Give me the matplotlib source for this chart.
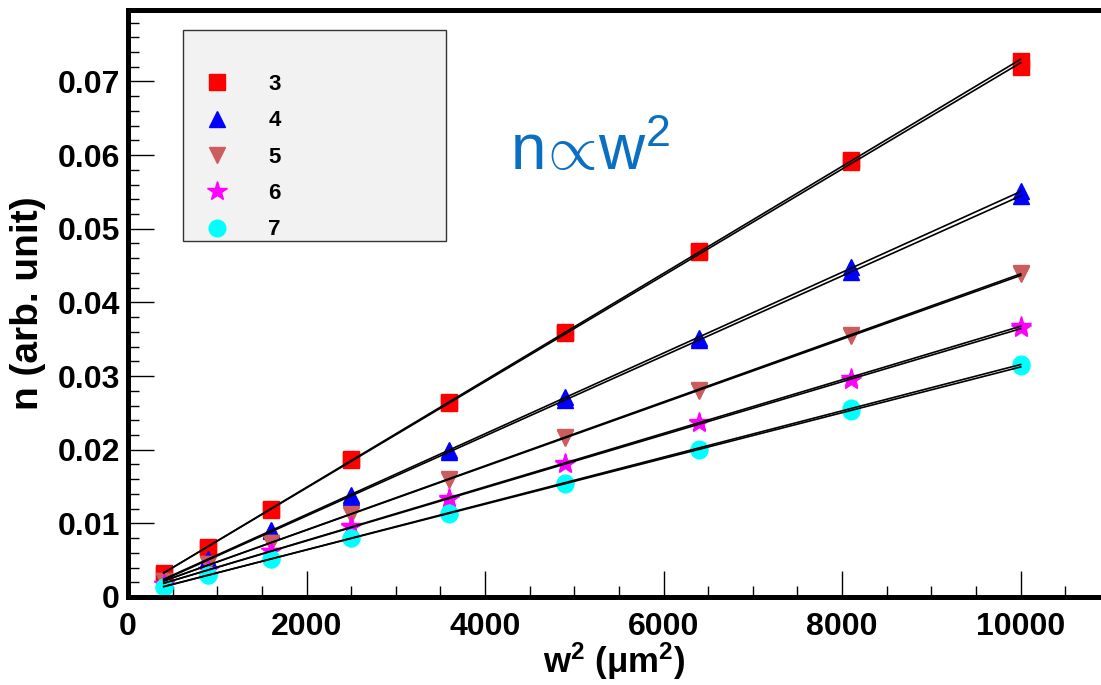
import numpy as np
import matplotlib
matplotlib.use('Agg')
import matplotlib.pyplot as plt
from matplotlib.patches import Rectangle
from matplotlib.ticker import MultipleLocator

plt.rcParams['font.family'] = ['Liberation Sans', 'DejaVu Sans']
plt.rcParams['mathtext.fontset'] = 'custom'
plt.rcParams['mathtext.rm'] = 'Liberation Sans'
plt.rcParams['mathtext.bf'] = 'Liberation Sans:bold'
plt.rcParams['mathtext.it'] = 'Liberation Sans:italic'

# w^2 in um^2
w2 = [400, 900, 1600, 2500, 3600, 4900, 6400, 8100, 10000]

# two measurements per group, n in arb. unit
n3a = [0.0032, 0.0068, 0.0119, 0.0187, 0.0265, 0.0360, 0.0470, 0.0593, 0.0728]
n3b = [0.0031, 0.0067, 0.0118, 0.0186, 0.0264, 0.0359, 0.0469, 0.0591, 0.0720]
n4a = [0.0025, 0.0052, 0.0091, 0.0138, 0.0199, 0.0271, 0.0351, 0.0448, 0.0551]
n4b = [0.0024, 0.0050, 0.0089, 0.0136, 0.0197, 0.0268, 0.0349, 0.0441, 0.0545]
n5a = [0.0022, 0.0045, 0.0073, 0.0113, 0.0160, 0.0217, 0.0281, 0.0356, 0.0440]
n5b = [0.0022, 0.0045, 0.0073, 0.0112, 0.0159, 0.0216, 0.0280, 0.0354, 0.0438]
n6a = [0.0018, 0.0037, 0.0063, 0.0096, 0.0134, 0.0182, 0.0237, 0.0298, 0.0368]
n6b = [0.0018, 0.0037, 0.0062, 0.0095, 0.0133, 0.0181, 0.0236, 0.0294, 0.0365]
n7a = [0.0014, 0.0030, 0.0052, 0.0080, 0.0114, 0.0155, 0.0201, 0.0257, 0.0316]
n7b = [0.0014, 0.0030, 0.0052, 0.0080, 0.0113, 0.0154, 0.0200, 0.0253, 0.0313]

labels = ['3', '4', '5', '6', '7']
colors = ['#ff0000', '#0000ff', '#cd5c5c', '#ff00ff', '#00ffff']
markers = ['s', '^', 'v', '*', 'o']
sizes = [12, 12, 12, 15, 12]
data = [(n3a, n3b), (n4a, n4b), (n5a, n5b), (n6a, n6b), (n7a, n7b)]

xtick_vals = [0, 2000, 4000, 6000, 8000, 10000]
xtick_labels = ['0', '2000', '4000', '6000', '8000', '10000']
ytick_vals = [0, 0.01, 0.02, 0.03, 0.04, 0.05, 0.06, 0.07]
ytick_labels = ['0', '0.01', '0.02', '0.03', '0.04', '0.05', '0.06', '0.07']

fig = plt.figure(figsize=(11.01, 6.85), dpi=100)
ax = fig.add_axes([128/1101, 88/685, 973/1101, 587/685])

x = np.array(w2)
handles = []
for lab, col, mk, ms, pair in zip(labels, colors, markers, sizes, data):
    for k, y in enumerate(pair):
        y = np.array(y)
        h, = ax.plot(x, y, linestyle='none', marker=mk, ms=ms, color=col,
                     mec=col, zorder=2, label=lab if k == 0 else None)
        if k == 0:
            handles.append(h)
        p = np.polyfit(x, y, 1)
        xx = np.array([x[0], x[-1]])
        ax.plot(xx, np.polyval(p, xx), color='black', lw=1.2, zorder=3)

ax.set_xlim(0, 10900)
ax.set_ylim(0, 0.0797)
ax.set_xticks(xtick_vals)
ax.set_xticklabels(xtick_labels)
ax.set_yticks(ytick_vals)
ax.set_yticklabels(ytick_labels)
ax.xaxis.set_minor_locator(MultipleLocator(500))
ax.yaxis.set_minor_locator(MultipleLocator(0.002))
ax.tick_params(which='both', direction='in', width=1.0, color='black')
ax.tick_params(which='major', length=19)
ax.tick_params(which='minor', length=8)
ax.tick_params(axis='x', which='major', labelsize=23, pad=11)
ax.tick_params(axis='y', which='major', labelsize=23, pad=6)
for t in ax.get_xticklabels() + ax.get_yticklabels():
    t.set_fontweight('bold')

for s in ['left', 'bottom', 'top']:
    ax.spines[s].set_linewidth(3.6)
ax.spines['right'].set_visible(False)

ax.set_xlabel(r'w$^{\mathbf{2}}$ (μm$^{\mathbf{2}}$)', fontsize=25,
              fontweight='bold', labelpad=-1)
ax.set_ylabel('n (arb. unit)', fontsize=28, fontweight='bold', labelpad=8)

ax.text(0.3926, 0.7274, r'n$\!\propto\!$w$^{2}$', transform=ax.transAxes,
        fontsize=46, color='#0a6fc2', va='baseline', ha='left')

# legend box
box = Rectangle((0.0565, 0.6065), 0.2705, 0.3595, transform=ax.transAxes,
                facecolor='#f2f2f2', edgecolor='#333333', lw=1.0, zorder=4)
ax.add_patch(box)
leg = ax.legend(handles=handles, loc='upper left',
                bbox_to_anchor=(0.0699, 0.891), frameon=False,
                borderpad=0, borderaxespad=0, handlelength=1.9,
                handletextpad=1.35, labelspacing=0.69, numpoints=1,
                prop={'size': 16, 'weight': 'bold'})
leg.set_zorder(5)

fig.savefig('out.png', dpi=100)
